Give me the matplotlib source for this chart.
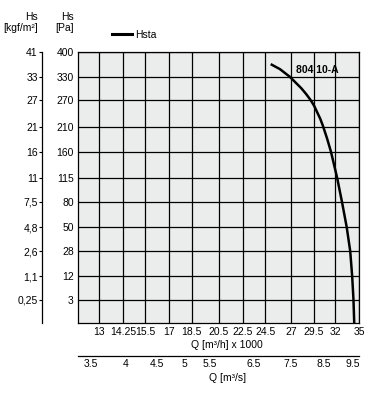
import numpy as np
import matplotlib
matplotlib.use('Agg')
import matplotlib.pyplot as plt
from matplotlib.ticker import NullLocator
from matplotlib.lines import Line2D

plt.rcParams['font.family'] = ['Liberation Sans Narrow', 'Liberation Sans', 'DejaVu Sans']
plt.rcParams['font.size'] = 7.5

# Q in m3/h x 1000, Hs in Pa
q_kh = [25.0, 25.9, 26.9, 28.1, 28.6, 29.1, 29.5, 30.2, 30.5, 31.0, 31.45,
        32.2, 32.8, 33.4, 33.85, 34.1, 34.27, 34.37]
hs_pa = [365, 351, 330, 300, 286, 271, 257, 227, 212, 185, 160,
         115, 80, 50, 28, 12, 3, 0]

q_ticks = [13, 14.25, 15.5, 17, 18.5, 20.5, 22.5, 24.5, 27, 29.5, 32, 35]
q_labels = ['13', '14.25', '15.5', '17', '18.5', '20.5', '22.5', '24.5', '27', '29.5', '32', '35']
qs_ticks = [3.5, 4, 4.5, 5, 5.5, 6.5, 7.5, 8.5, 9.5]
qs_labels = ['3.5', '4', '4.5', '5', '5.5', '6.5', '7.5', '8.5', '9.5']
pa_ticks = [3, 12, 28, 50, 80, 115, 160, 210, 270, 330, 400]
kgf_labels = ['0,25', '1,1', '2,6', '4,8', '7,5', '11', '16', '21', '27', '33', '41']

W, H = 389, 401
fig = plt.figure(figsize=(W / 100, H / 100), dpi=100)
ax = fig.add_axes([78 / W, 1 - 323 / H, (359 - 78) / W, (323 - 52) / H])
ax.set_facecolor('#ebeded')

sq = (lambda y: np.sqrt(np.clip(y, 0, None)), lambda y: np.square(y))
ax.set_xscale('log')
ax.set_yscale('function', functions=sq)
ax.set_xlim(12, 35)
ax.set_ylim(0, 400)

ax.set_xticks(q_ticks, labels=q_labels)
ax.xaxis.set_minor_locator(NullLocator())
ax.set_yticks(pa_ticks, labels=[str(v) for v in pa_ticks])
ax.yaxis.set_minor_locator(NullLocator())
ax.tick_params(axis='both', length=0, pad=3)
ax.grid(True, color='black', lw=0.9)
ax.set_axisbelow(True)
for s in ax.spines.values():
    s.set_linewidth(0.9)

ax.plot(q_kh, hs_pa, color='black', lw=1.8, solid_capstyle='butt', solid_joinstyle='round')
ax.text(27.5, 349, '804 10-A', fontweight='bold', va='center', ha='left')

# kgf/m2 axis on the left
ax2 = ax.twinx()
ax2.set_yscale('function', functions=sq)
ax2.set_ylim(0, 400)
ax2.set_yticks(pa_ticks, labels=kgf_labels)
ax2.yaxis.set_minor_locator(NullLocator())
ax2.yaxis.set_ticks_position('left')
ax2.yaxis.set_label_position('left')
ax2.spines['left'].set_position(('axes', (42 - 78) / (359 - 78)))
ax2.spines['left'].set_linewidth(0.9)
for k in ['right', 'top', 'bottom']:
    ax2.spines[k].set_visible(False)
ax2.tick_params(axis='y', length=2, width=0.8, pad=1)

# m3/s axis below
sec = ax.secondary_xaxis((323 - 356) / (323 - 52), functions=(lambda x: x / 3.6, lambda x: x * 3.6))
sec.set_xticks(qs_ticks, labels=qs_labels)
sec.xaxis.set_minor_locator(NullLocator())
sec.tick_params(axis='x', length=0, pad=2)
sec.spines['bottom'].set_linewidth(0.9)

fig.text(226.7 / W, 1 - 345 / H, 'Q [m³/h] x 1000', ha='center', va='center')
fig.text(228 / W, 1 - 378 / H, 'Q [m³/s]', ha='center', va='center')
fig.text(38 / W, 1 - 22.5 / H, 'Hs\n[kgf/m²]', ha='right', va='center', multialignment='right')
fig.text(74 / W, 1 - 22.5 / H, 'Hs\n[Pa]', ha='right', va='center', multialignment='right')

h = Line2D([], [], color='black', lw=2.2)
ax.legend([h], ['Hsta'], loc='center left', bbox_to_anchor=(112 / W, 1 - 35 / H),
          bbox_transform=fig.transFigure, frameon=False, handlelength=1.9,
          handletextpad=0.3, borderpad=0, borderaxespad=0)

fig.savefig('out.png', dpi=100)
